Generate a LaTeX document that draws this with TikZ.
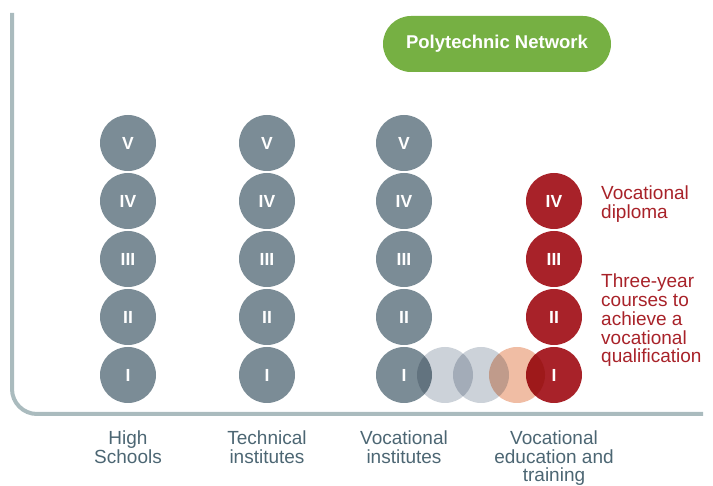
\documentclass[tikz,border=0pt]{standalone}
\usepackage{fontspec}
\setmainfont{Liberation Sans}
\begin{document}
\begin{tikzpicture}[x=1pt, y=-1pt,
	circgray/.style={circle, fill={rgb,255:red, 123; green, 140; blue, 150 }, minimum size=56pt, inner sep=0pt, text=white, font=\fontsize{17.5}{18}\selectfont\bfseries},
	circred/.style={circgray, fill={rgb,255:red, 168; green, 34; blue, 41 }},
	circghost/.style={circle, fill={rgb,255:red, 204; green, 210; blue, 217 }, minimum size=56pt, inner sep=0pt},
	circorange/.style={circghost, fill={rgb,255:red, 240; green, 189; blue, 164 }},
	lbl/.style={anchor=north, align=center, inner sep=0pt, text={rgb,255:red, 76; green, 102; blue, 115 }, font=\fontsize{19}{18.5}\selectfont},
	redlbl/.style={anchor=north west, align=left, inner sep=0pt, text={rgb,255:red, 168; green, 34; blue, 41 }, font=\fontsize{19}{18.7}\selectfont}]
	\useasboundingbox (0, 0) rectangle (713, 486);
	% axis
	\draw[color={rgb,255:red, 170; green, 187; blue, 190 }, line width=4pt, rounded corners=25pt] (12, 13) -- (12, 414) -- (703, 414);
	% polytechnic network
	\node[fill={rgb,255:red, 118; green, 176; blue, 67 }, minimum width=228pt, minimum height=56pt, rounded corners=28pt, text=white, font=\fontsize{18.5}{19}\selectfont\bfseries] (poly) at (497, 44) {Polytechnic Network};
	% high schools
	\node[circgray] (hs1) at (128, 375) {I};
	\node[circgray] (hs2) at (128, 317) {II};
	\node[circgray] (hs3) at (128, 259) {III};
	\node[circgray] (hs4) at (128, 201) {IV};
	\node[circgray] (hs5) at (128, 143) {V};
	% technical institutes
	\node[circgray] (ti1) at (267, 375) {I};
	\node[circgray] (ti2) at (267, 317) {II};
	\node[circgray] (ti3) at (267, 259) {III};
	\node[circgray] (ti4) at (267, 201) {IV};
	\node[circgray] (ti5) at (267, 143) {V};
	% vocational institutes
	\node[circgray] (vi1) at (404, 375) {I};
	\node[circgray] (vi2) at (404, 317) {II};
	\node[circgray] (vi3) at (404, 259) {III};
	\node[circgray] (vi4) at (404, 201) {IV};
	\node[circgray] (vi5) at (404, 143) {V};
	% vocational education and training
	\node[circred] (vet1) at (554, 375) {I};
	\node[circred] (vet2) at (554, 317) {II};
	\node[circred] (vet3) at (554, 259) {III};
	\node[circred] (vet4) at (554, 201) {IV};
	% passage
	\begin{scope}[blend mode=multiply]
		\node[circghost] (g1) at (445, 375) {};
		\node[circghost] (g2) at (481, 375) {};
		\node[circorange] (g3) at (517, 375) {};
	\end{scope}
	% labels
	\node[lbl] (lblhs) at (128, 431) {High\\Schools};
	\node[lbl] (lblti) at (267, 431) {Technical\\institutes};
	\node[lbl] (lblvi) at (404, 431) {Vocational\\institutes};
	\node[lbl] (lblvet) at (554, 431) {Vocational\\education and\\training};
	\node[redlbl] (lbldip) at (601, 186) {Vocational\\diploma};
	\node[redlbl] (lblcourse) at (601, 274) {Three-year\\courses to\\achieve a\\vocational\\qualification};
\end{tikzpicture}
\end{document}
